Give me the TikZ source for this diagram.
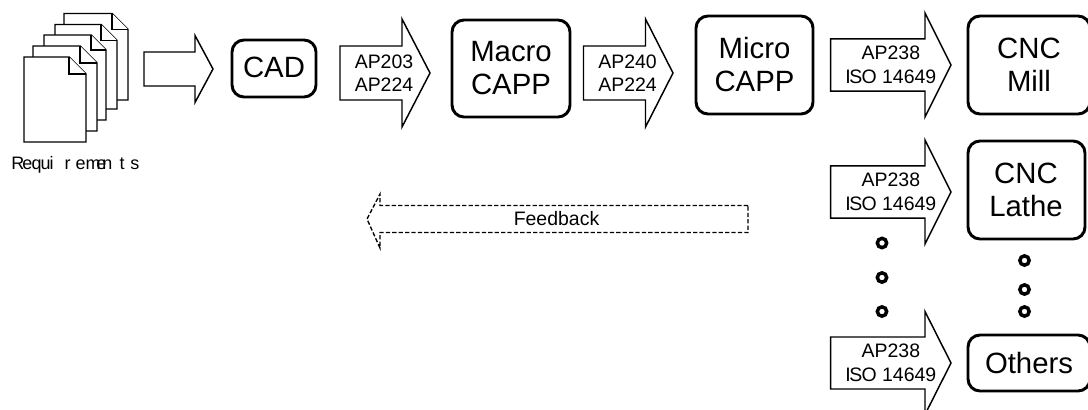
\documentclass[tikz,border=0pt]{standalone}
\usepackage{fontspec}
\setmainfont{Liberation Sans}
\newcommand{\bigtxt}{\fontsize{22}{24.75}\selectfont}
\newcommand{\smalltxt}{\fontsize{14.6}{17.6}\selectfont}
\newcommand{\lttr}[2]{\makebox[#1pt][l]{#2}}
\newcommand{\isolabel}{AP238\\I\kern-1.2pt S\kern-.5pt O 14649}
% name, left x, head x, tip x, centre y, body half height, head half height, label
\newcommand{\blockarrow}[8]{%
  \draw[arrowline] (#2,#5-#6) -- (#3,#5-#6) -- (#3,#5-#7) -- (#4,#5) -- (#3,#5+#7) -- (#3,#5+#6) -- (#2,#5+#6) -- cycle;
  \node[small, align=center] (#1) at ({(#2+#3)/2+13},#5) {#8};}
\newcommand{\sheet}[5]{% left, right, top, bottom, fold size
  \draw[sheetline] (#1,#3) -- (#2-#5,#3) -- (#2,#3+#5) -- (#2,#4) -- (#1,#4) -- cycle;
  \draw[sheetline] (#2-#5,#3) -- (#2-#5,#3+#5) -- (#2,#3+#5);}
\tikzset{
  arrowline/.style={draw=black, fill=white, line width=1.1pt, line join=miter},
  sheetline/.style={draw=black, fill=white, line width=1.1pt},
  procbox/.style={draw=black, line width=2.2pt, rounded corners=9pt, fill=white},
  big/.style={font=\bigtxt, inner sep=0pt, align=center},
  small/.style={font=\smalltxt, inner sep=0pt},
  dotmark/.style={circle, draw=black, line width=2.6pt, minimum size=7pt, inner sep=0pt},
}
\begin{document}
\begin{tikzpicture}[x=0.75pt,y=-0.75pt]
\useasboundingbox (0,0) rectangle (1088,410);
\clip (0,0) rectangle (1088,410);
% requirement pages
\sheet{64}{128}{13.5}{100}{16}
\sheet{55}{117}{24.5}{109}{16}
\sheet{44}{106}{35}{120}{15}
\sheet{33}{97}{46}{131}{17}
\sheet{24}{86}{57}{142}{17}
\node[font=\fontsize{13.5}{16}\selectfont, inner sep=0pt, anchor=base west] (req) at (11,169.5)
  {\lttr{8.4}{R}\lttr{6.8}{e}\lttr{6.8}{q}\lttr{6.8}{u}\lttr{11.2}{i}\lttr{8.2}{r}\lttr{7.5}{e}\lttr{8.2}{m}\lttr{4.5}{e}\lttr{12.8}{n}\lttr{8.2}{t}s};
% block arrows
\draw[arrowline] (144,52) -- (195,52) -- (195,35.5) -- (213,69) -- (195,102.5) -- (195,86) -- (144,86) -- cycle;
\blockarrow{a2}{340}{402}{430}{73}{27}{54}{AP203\\AP224}
\blockarrow{a3}{583.5}{645.5}{673}{73}{27}{54}{AP240\\AP224}
\blockarrow{a4}{830.7}{925}{951}{65}{26.2}{52}{\isolabel}
\blockarrow{a5}{830.7}{925}{951}{192}{26.2}{52}{\isolabel}
\blockarrow{a6}{830.7}{925}{951}{363}{26}{51.5}{\isolabel}
% feedback
\draw[black, line width=1pt, dash pattern=on 3.2pt off 1.6pt, fill=white]
  (748,205.5) -- (380,205.5) -- (380,194) -- (367,219) -- (380,248) -- (380,232.5) -- (748,232.5) -- cycle;
\node[small] (fb) at (556.5,219) {Feedback};
% process boxes
\draw[procbox] (232,40) rectangle (316,97);
\node[big] (cad) at (274,67) {CAD};
\draw[procbox] (452,20) rectangle (570,117);
\node[big] (macro) at (511,68) {Macro\\CAPP};
\draw[procbox] (696,16) rectangle (813,114);
\node[big] (micro) at (754.5,65) {Micro\\CAPP};
\draw[procbox] (968,16) rectangle (1090,114);
\node[big] (mill) at (1029,65) {CNC\\Mill};
\draw[procbox] (968,141) rectangle (1085,239);
\node[big] (lathe) at (1026,190) {CNC\\Lathe};
\draw[procbox] (968,335) rectangle (1090,391);
\node[big] (others) at (1029,363) {Others};
% ellipsis marks
\node[dotmark] (d1) at (882,243) {};
\node[dotmark] (d2) at (882,277.5) {};
\node[dotmark] (d3) at (882,311.5) {};
\node[dotmark] (d4) at (1024.5,260.5) {};
\node[dotmark] (d5) at (1024.5,289.5) {};
\node[dotmark] (d6) at (1024.5,311.5) {};
\end{tikzpicture}
\end{document}
